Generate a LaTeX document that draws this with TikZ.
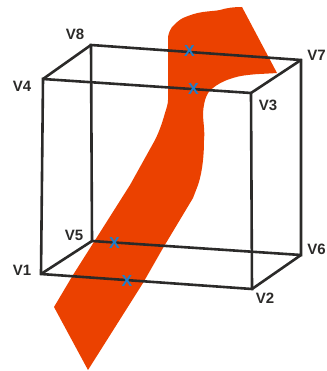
\documentclass[tikz,border=0pt]{standalone}
\usepackage{fontspec}
\setmainfont{Liberation Sans}
\definecolor{SheetRed}{HTML}{EB4100}
\definecolor{FrameGrey}{HTML}{2B2A29}
\definecolor{HitBlue}{HTML}{1B7FCC}
\begin{document}
\begin{tikzpicture}[x=1pt,y=-1pt,
        vertex/.style={font=\fontsize{15}{15}\selectfont\bfseries,text=FrameGrey,inner sep=0pt},
        hit/.style={font=\fontsize{16}{16}\selectfont\bfseries,text=HitBlue,inner sep=0pt},
        edge/.style={draw=FrameGrey,line width=2.6pt,line join=miter}]
      \useasboundingbox (0,0) rectangle (326,371);
      \fill[SheetRed] (242,7) -- (277,73) .. controls (262,74) and (255,74) .. (248,75)
        .. controls (236,76) and (221,81) .. (213,88)
        .. controls (208,91) and (204,98) .. (203,113)
        .. controls (203,122) and (205,130) .. (204,140)
        .. controls (204,152) and (203,170) .. (198,185)
        -- (193,198) -- (163,248) -- (143,283) -- (88,370) -- (54,307) -- (73,275) -- (130,185)
        -- (155,140) .. controls (160,130) and (163,120) .. (165,113)
        .. controls (167,107) and (168,103) .. (168,100) -- (168,37)
        .. controls (169,32) and (170,30) .. (172,27)
        .. controls (176,23) and (179,20) .. (183,18)
        .. controls (190,15) and (196,13) .. (203,12)
        .. controls (210,11) and (215,11) .. (220,10)
        .. controls (226,8) and (234,7) .. (242,7) -- cycle;
      % corners of the frame
      \coordinate (c1) at (41,274);
      \coordinate (c2) at (252,289);
      \coordinate (c3) at (251,93);
      \coordinate (c4) at (43,79);
      \coordinate (c5) at (92,241);
      \coordinate (c6) at (301,255);
      \coordinate (c7) at (301,60);
      \coordinate (c8) at (91,45);
      \draw[edge] (c5)--(c6)--(c7)--(c8)--cycle;
      \draw[edge] (c1)--(c5);
      \draw[edge] (c2)--(c6);
      \draw[edge] (c3)--(c7);
      \draw[edge] (c4)--(c8);
      \draw[edge] (c1)--(c2)--(c3)--(c4)--cycle;
      \node[vertex] (v1) at (22,270) {V1};
      \node[vertex] (v2) at (265,298) {V2};
      \node[vertex] (v3) at (268,105) {V3};
      \node[vertex] (v4) at (22,86) {V4};
      \node[vertex] (v5) at (74,235) {V5};
      \node[vertex] (v6) at (316.5,249) {V6};
      \node[vertex] (v7) at (316.5,55) {V7};
      \node[vertex] (v8) at (75,34) {V8};
      \node[hit] (x1) at (189.5,51) {X};
      \node[hit] (x2) at (193.5,88.5) {X};
      \node[hit] (x3) at (114.5,243) {X};
      \node[hit] (x4) at (127,281) {X};
    \end{tikzpicture}
\end{document}
